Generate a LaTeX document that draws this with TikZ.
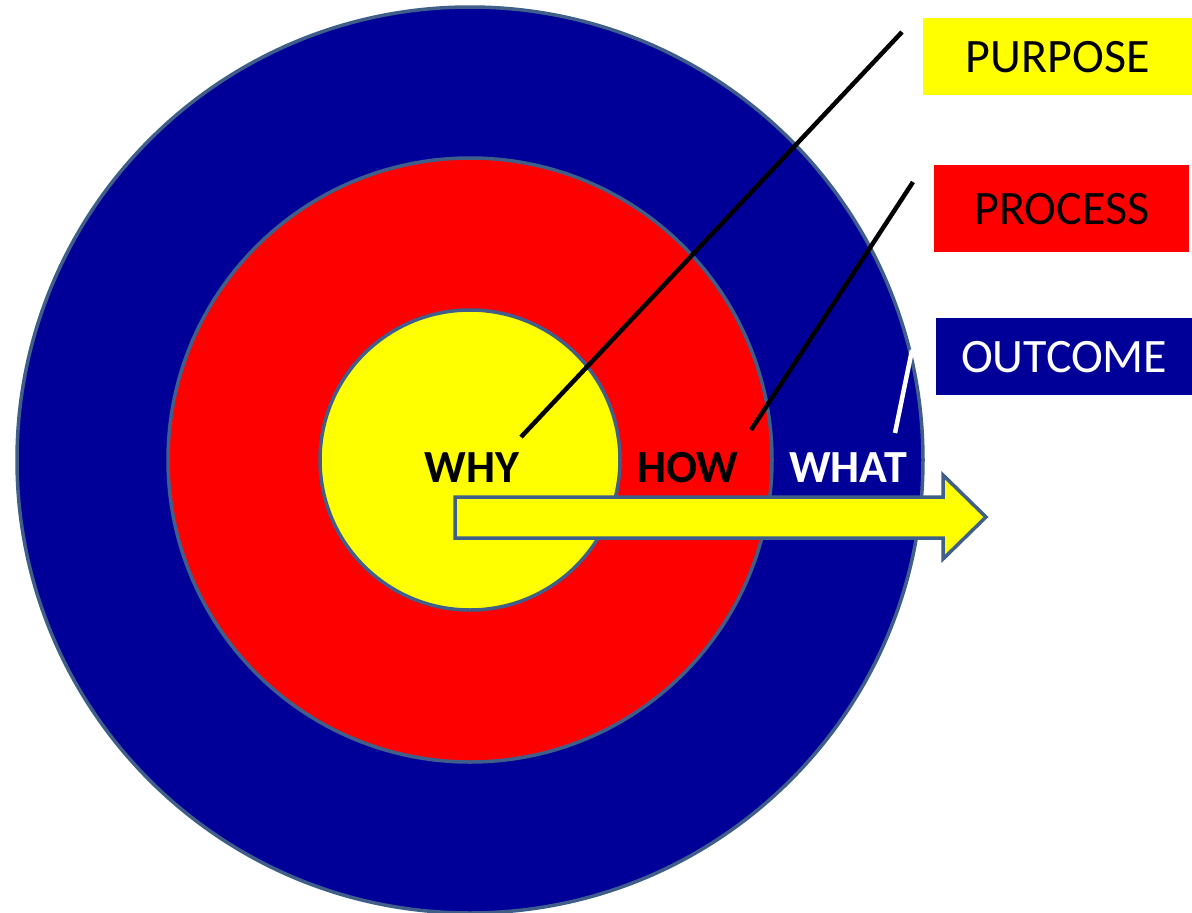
\documentclass[tikz,border=0pt]{standalone}
\usepackage{fontspec}
\setmainfont{Carlito}
\definecolor{ringblue}{HTML}{000099}
\definecolor{ringred}{HTML}{FF0000}
\definecolor{ringyellow}{HTML}{FFFF00}
\definecolor{ringedge}{HTML}{3F5F8A}
\tikzset{
  ring/.style={circle, draw=ringedge, line width=3.5, inner sep=0pt, outer sep=0pt},
  lbl/.style={font=\bfseries\fontsize{46}{46}\selectfont, inner sep=0pt},
  keybox/.style={anchor=north west, inner sep=0pt, font=\fontsize{48}{50}\selectfont},
  leader/.style={line width=4.5}
}
\begin{document}
\begin{tikzpicture}[x=1pt,y=-1pt]
\useasboundingbox (0,0) rectangle (1192,913);
\node[ring, fill=ringblue, minimum size=906] (outer) at (470,460) {};
\node[ring, fill=ringred, minimum size=604] (middle) at (470,460) {};
\node[ring, fill=ringyellow, minimum size=300] (inner) at (470,460) {};
\draw[fill=ringyellow, draw=ringedge, line width=3.5]
  (455,497) -- (943,497) -- (943,475) -- (986,517) -- (943,559) -- (943,538) -- (455,538) -- cycle;
\node[lbl, text=black] (why) at (472,468) {WHY};
\node[lbl, text=black] (how) at (688,468) {HOW};
\node[lbl, text=white] (what) at (848,468) {WHAT};
% key boxes
\node[keybox, fill=ringyellow, minimum width=269, minimum height=77, text=black] (purpose) at (923,18) {PURPOSE};
\node[keybox, fill=ringred, minimum width=255, minimum height=87, text=black] (process) at (934,165) {PROCESS};
\node[keybox, fill=ringblue, minimum width=256, minimum height=77, text=white] (outcome) at (936,318) {OUTCOME};
% leader lines
\coordinate (pA) at (521,437);
\coordinate (pB) at (902,32);
\coordinate (qA) at (751,430);
\coordinate (qB) at (913,182);
\coordinate (rA) at (895,433);
\coordinate (rB) at (912,350);
\draw[leader, black] (pA) -- (pB);
\draw[leader, black] (qA) -- (qB);
\draw[leader, white] (rA) -- (rB);
\end{tikzpicture}
\end{document}
